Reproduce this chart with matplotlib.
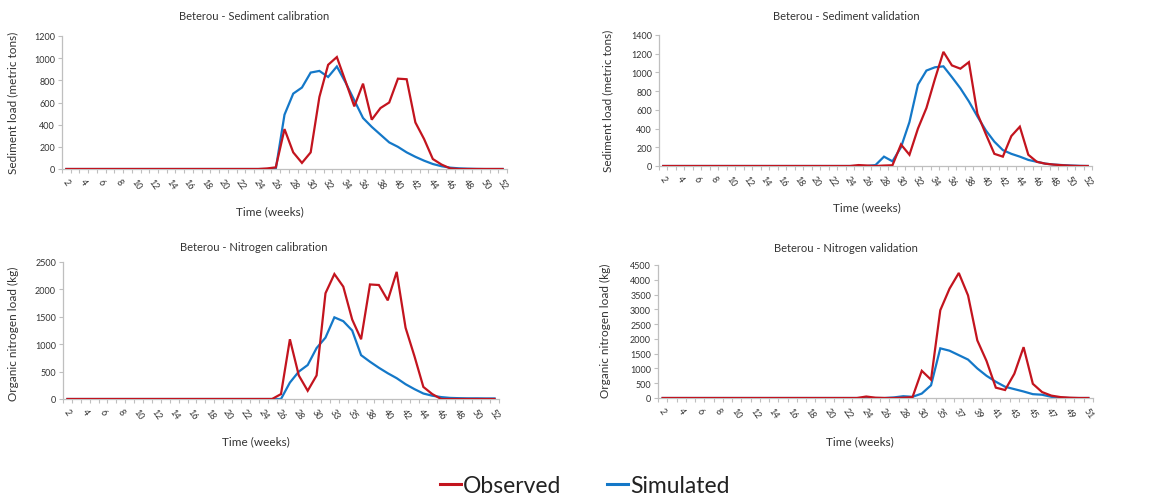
import matplotlib
matplotlib.use("Agg")
import matplotlib.pyplot as plt
from matplotlib.lines import Line2D
import numpy as np

plt.rcParams['font.family'] = ['Lato', 'DejaVu Sans']

RED = '#C3141E'
BLUE = '#1478C8'
TXT = '#333333'
AXC = '#bfbfbf'

# ---- data ----
sed_cal_weeks = list(range(2, 53))
sed_cal_obs = [0] * 23 + [5, 15, 360, 150, 55, 150, 650, 940, 1010, 790, 565, 770, 445,
                          550, 600, 815, 810, 420, 270, 90, 40, 5] + [0] * 6
sed_cal_sim = [0] * 25 + [490, 680, 735, 870, 885, 830, 925, 780, 620, 460, 380, 310, 240,
                          200, 150, 110, 75, 45, 25, 12, 6, 3, 1, 0, 0, 0]

sed_val_weeks = list(range(2, 53))
sed_val_obs = [0] * 23 + [10, 5, 0, 5, 8, 230, 120, 400, 620, 930, 1220, 1075, 1040, 1110,
                          560, 340, 130, 100, 320, 420, 120, 45, 25, 15, 8, 3, 0, 0]
sed_val_sim = [0] * 25 + [10, 100, 50, 200, 470, 870, 1020, 1055, 1065, 950, 830, 690, 530,
                          380, 260, 170, 130, 100, 65, 45, 25, 15, 10, 5, 2, 0]

nit_cal_weeks = list(range(2, 32)) + [33, 34, 35, 37] + list(range(38, 53))
nit_cal_obs = [0] * 24 + [90, 1090, 430, 150, 430, 1930, 2280, 2050, 1450, 1090, 2090, 2080,
                          1800, 2320, 1300, 780, 220, 90, 0] + [0] * 6
nit_cal_sim = [0] * 25 + [300, 500, 620, 930, 1120, 1490, 1420, 1250, 800, 680, 570, 470,
                          380, 270, 180, 100, 60, 35, 20, 15, 12, 12, 10, 10]

nit_val_weeks = list(range(2, 31)) + [33] + list(range(35, 52))
nit_val_obs = [0] * 22 + [50, 10, 0, 0, 10, 30, 920, 620, 2970, 3700, 4230, 3470, 1950, 1250,
                          350, 270, 820, 1720, 480, 200, 80, 30, 10, 0, 0]
nit_val_sim = [0] * 25 + [20, 60, 40, 150, 430, 1680, 1600, 1450, 1300, 1000, 750, 550, 380,
                          300, 220, 130, 110, 40, 10, 0, 0, 0]

panels = [
    # weeks, obs, sim, ymax, ystep, title, ylabel, rect, title_xy, ylab_xy, xlab_xy
    (sed_cal_weeks, sed_cal_obs, sed_cal_sim, 1200, 200, 'Beterou - Sediment calibration',
     'Sediment load (metric tons)', (62, 37, 507, 170), (254, 16), (13, 103), (270, 212)),
    (sed_val_weeks, sed_val_obs, sed_val_sim, 1400, 200, 'Beterou - Sediment validation',
     'Sediment load (metric tons)', (659, 36, 1092, 167), (846, 16), (608, 101), (867, 208)),
    (nit_cal_weeks, nit_cal_obs, nit_cal_sim, 2500, 500, 'Beterou - Nitrogen calibration',
     'Organic nitrogen load (kg)', (63, 263, 499, 400), (254, 248), (13, 334), (256, 442)),
    (nit_val_weeks, nit_val_obs, nit_val_sim, 4500, 500, 'Beterou - Nitrogen validation',
     'Organic nitrogen load (kg)', (658, 266, 1093, 399), (846, 249), (605, 331), (860, 442)),
]

W, H = 1163, 502
fig = plt.figure(figsize=(W / 100, H / 100), dpi=100)

for weeks, obs, sim, ymax, ystep, title, ylab, (x0, y0, x1, y1), txy, yxy, xxy in panels:
    ax = fig.add_axes([x0 / W, 1 - y1 / H, (x1 - x0) / W, (y1 - y0) / H])
    n = len(weeks)
    x = np.arange(n)
    ax.plot(x, sim, color=BLUE, lw=1.6, zorder=2, solid_joinstyle='miter')
    ax.plot(x, obs, color=RED, lw=1.6, zorder=3, solid_joinstyle='miter')
    ax.set_xlim(-0.5, n - 0.5)
    ax.set_ylim(0, ymax)
    ax.set_yticks(np.arange(0, ymax + 1, ystep))
    ax.set_xticks(x[::2])
    ax.set_xticklabels([str(w) for w in weeks[::2]], rotation=-55, ha='center', va='top',
                       fontsize=6.5, color=TXT)
    ax.set_xticks(np.arange(-0.5, n, 1), minor=True)
    ax.tick_params(axis='x', which='major', length=0, pad=6)
    ax.tick_params(axis='x', which='minor', length=3, color=AXC, width=0.8)
    ax.tick_params(axis='y', length=3, color=AXC, width=0.8, labelsize=6.5,
                   labelcolor=TXT, pad=2)
    for s in ('top', 'right'):
        ax.spines[s].set_visible(False)
    for s in ('left', 'bottom'):
        ax.spines[s].set_color(AXC)
        ax.spines[s].set_linewidth(0.9)
    fig.text(txy[0] / W, 1 - txy[1] / H, title, ha='center', va='center',
             fontsize=8, color=TXT)
    fig.text(yxy[0] / W, 1 - yxy[1] / H, ylab, ha='center', va='center', rotation=90,
             fontsize=8.5, color=TXT)
    fig.text(xxy[0] / W, 1 - xxy[1] / H, 'Time (weeks)', ha='center', va='center',
             fontsize=8.5, color=TXT)

handles = [Line2D([], [], color=RED, lw=2.2), Line2D([], [], color=BLUE, lw=2.2)]
fig.legend(handles, ['Observed', 'Simulated'], loc='center', bbox_to_anchor=(585 / W, 1 - 487 / H),
           ncol=2, frameon=False, fontsize=16.5, handlelength=0.9, handletextpad=0.1,
           columnspacing=2.0, labelcolor='#222222')

fig.savefig('out.png', dpi=100)
